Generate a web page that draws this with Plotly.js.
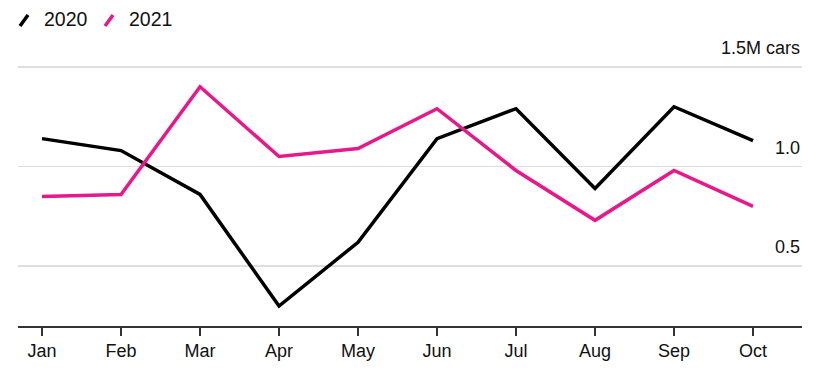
<!DOCTYPE html>
<html>
<head>
<meta charset="utf-8">
<script src="https://cdn.plot.ly/plotly-3.0.1.min.js"></script>
<style>html,body{margin:0;padding:0;background:#fff;}#chart{width:820px;height:379px;}</style>
</head>
<body>
<div id="chart"></div>
<script>
const months = ["Jan","Feb","Mar","Apr","May","Jun","Jul","Aug","Sep","Oct"];
const sales2020 = [1.14, 1.08, 0.86, 0.30, 0.62, 1.14, 1.29, 0.89, 1.30, 1.13];
const sales2021 = [0.85, 0.86, 1.40, 1.05, 1.09, 1.29, 0.98, 0.73, 0.98, 0.80];
const yTickVals = [0.5, 1.0, 1.5];
const yTickText = ["0.5", "1.0", "1.5M cars"];
const seriesNames = ["2020", "2021"];
const seriesColors = ["#000000", "#e8178a"];

const FONT = "Liberation Sans, Arial, Helvetica, sans-serif";

const traces = [sales2020, sales2021].map((vals, i) => ({
  x: months, y: vals, type: "scatter", mode: "lines",
  name: seriesNames[i],
  line: {color: seriesColors[i], width: 3.5},
  hoverinfo: "skip", showlegend: false
}));

const W = 784, H = 309, L = 18, T = 17;
const px = v => (v - L) / W;
const py = v => (T + H - v) / H;
const legendX = [20, 105];
const shapes = [];
const annotations = [];
// custom legend: slash + label
seriesNames.forEach((n, i) => {
  shapes.push({type: "line", xref: "paper", yref: "paper",
    x0: px(legendX[i]), y0: py(26), x1: px(legendX[i] + 8), y1: py(15),
    line: {color: seriesColors[i], width: 3.5}});
  annotations.push({xref: "paper", yref: "paper", x: px(legendX[i] + 22), y: py(19),
    xanchor: "left", yanchor: "middle", text: n, showarrow: false,
    font: {family: FONT, size: 19.5, color: "#111"}});
});
// y-axis labels sitting above their gridlines, right-aligned
yTickVals.forEach((v, i) => {
  annotations.push({xref: "paper", yref: "y", x: 1, y: v, xanchor: "right", yanchor: "bottom",
    yshift: 7, text: yTickText[i], showarrow: false,
    font: {family: FONT, size: 18, color: "#111"}});
});

const layout = {
  width: 820, height: 379,
  margin: {l: L, r: 820 - L - W, t: T, b: 379 - T - H, pad: 0},
  paper_bgcolor: "#fff", plot_bgcolor: "#fff",
  font: {family: FONT, size: 18, color: "#111"},
  xaxis: {
    type: "category", range: [-0.304, 9.62],
    showgrid: false, zeroline: false,
    showline: true, linecolor: "#333", linewidth: 1.5,
    ticks: "outside", ticklen: 8, tickwidth: 1.5, tickcolor: "#333",
    tickfont: {family: FONT, size: 18, color: "#111"},
    fixedrange: true
  },
  yaxis: {
    range: [0.2, 1.75], side: "right",
    tickvals: yTickVals, showticklabels: false,
    showgrid: true, gridcolor: "#dedede", gridwidth: 1.5,
    zeroline: false, showline: false, ticks: "",
    fixedrange: true
  },
  shapes: shapes,
  annotations: annotations,
  showlegend: false
};

Plotly.newPlot("chart", traces, layout, {displayModeBar: false, staticPlot: true});
</script>
</body>
</html>
